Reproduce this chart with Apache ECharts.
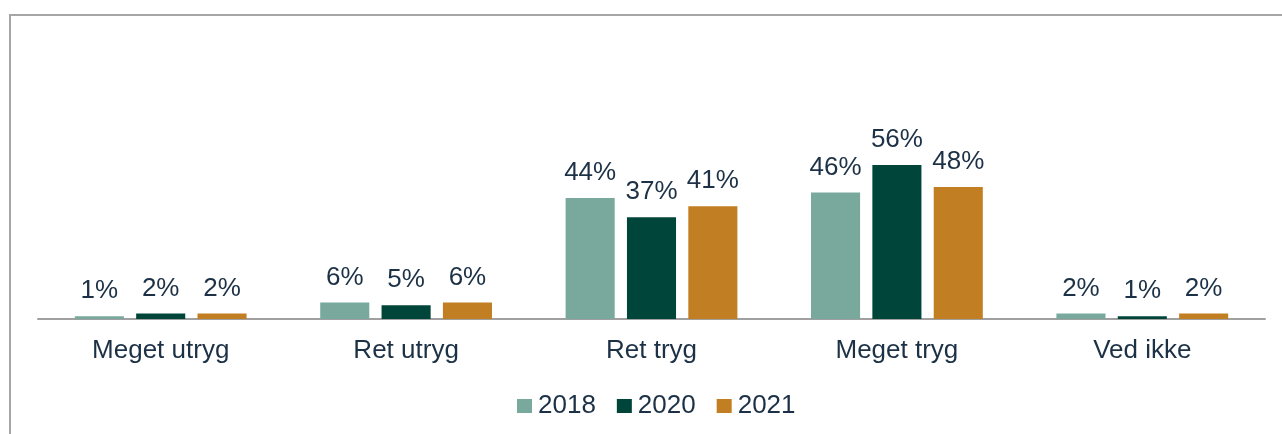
<!DOCTYPE html>
<html>
<head>
<meta charset="utf-8">
<script src="https://cdn.jsdelivr.net/npm/echarts@6/dist/echarts.min.js"></script>
<style>
  html, body { margin: 0; padding: 0; background: #fff; }
  #frame { position: absolute; left: 9px; top: 14px; width: 1273px; height: 420px;
           border-top: 2px solid #a6a6a6; border-left: 2px solid #a6a6a6; box-sizing: border-box; }
  #main { position: absolute; left: 0; top: 0; width: 1282px; height: 434px; }
</style>
</head>
<body>
<div id="frame"></div>
<div id="main"></div>
<script>
var categories = ['Meget utryg', 'Ret utryg', 'Ret tryg', 'Meget tryg', 'Ved ikke'];
var seriesNames = ['2018', '2020', '2021'];
var values2018 = [1, 6, 44, 46, 2];
var values2020 = [2, 5, 37, 56, 1];
var values2021 = [2, 6, 41, 48, 2];
var colors = ['#78a99c', '#00453a', '#c27e22'];

var textColor = '#1c3146';
var font = 'Liberation Sans, Arial, sans-serif';

var myChart = echarts.init(document.getElementById('main'));

var allValues = [values2018, values2020, values2021];
var series = seriesNames.map(function (name, i) {
    return {
        name: name,
        type: 'bar',
        data: allValues[i],
        barGap: '25%',
        barCategoryGap: '30%',
        itemStyle: { color: colors[i] },
        label: {
            show: true,
            position: 'top',
            distance: 12,
            formatter: '{c}%',
            color: textColor,
            fontSize: 26,
            fontFamily: font
        }
    };
});

myChart.setOption({
    animation: false,
    color: colors,
    grid: { left: 38, right: 17, top: 44, bottom: 115, containLabel: false },
    legend: {
        data: seriesNames,
        top: 388,
        left: 512,
        itemWidth: 15,
        itemHeight: 14,
        itemGap: 21,
        icon: 'rect',
        textStyle: { color: textColor, fontSize: 26, fontFamily: font, padding: [0, 0, 0, 1] }
    },
    xAxis: {
        type: 'category',
        data: categories,
        axisLine: { lineStyle: { color: '#a0a0a0', width: 2 } },
        axisTick: { show: false },
        axisLabel: { color: textColor, fontSize: 26, fontFamily: font, margin: 19 }
    },
    yAxis: {
        type: 'value',
        min: 0,
        max: 100,
        show: false,
        splitLine: { show: false }
    },
    series: series
});
</script>
</body>
</html>
